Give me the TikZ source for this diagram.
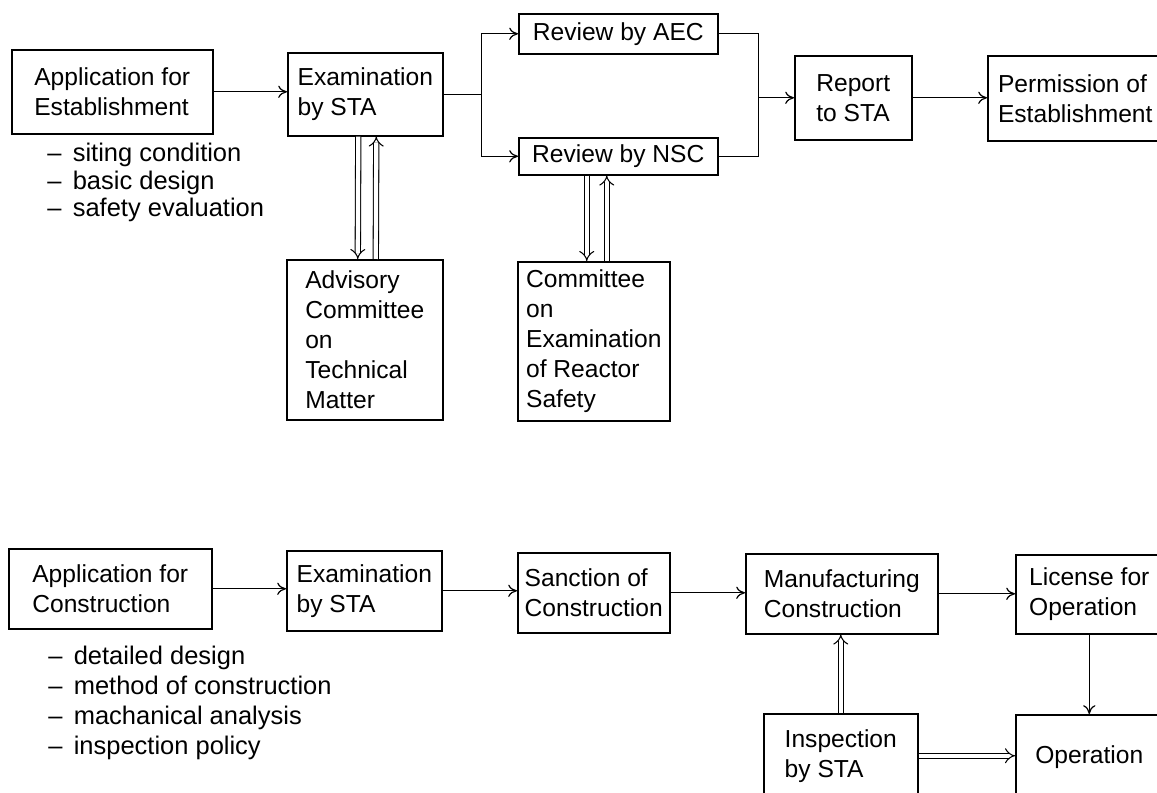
\documentclass[tikz,border=0pt]{standalone}
\usepackage{fontspec}
\setmainfont{Liberation Sans}
\usetikzlibrary{arrows.meta,positioning}

\tikzset{
        box/.style={draw, line width=0.9pt, rectangle, align=left, anchor=north west,
                inner sep=2pt, font=\fontsize{14}{17}\selectfont},
        notes/.style={align=left, anchor=north west, inner sep=0pt},
        arr/.style={line width=0.7pt, -{To[length=5pt, width=7pt]}},
        dbl/.style={double, double distance=2.4pt, line width=0.6pt, -{Implies}}
}

\begin{document}
\begin{tikzpicture}[x=0.02cm, y=-0.02cm]
        \useasboundingbox (0, 0) rectangle (1157, 793);
        \clip (0, 0) rectangle (1157, 793);
        \node[box, minimum width=4.02cm, minimum height=1.68cm] (appE) at (11, 49) {Application for\\Establishment};
        \node[box, minimum width=3.10cm, minimum height=1.66cm] (examE) at (287, 52) {Examination\\by STA};
        \node[box, minimum width=3.98cm, minimum height=0.80cm] (revAEC) at (518, 13) {Review by AEC};
        \node[box, minimum width=3.98cm, minimum height=0.74cm] (revNSC) at (518, 137) {Review by NSC};
        \node[box, minimum width=2.34cm, minimum height=1.68cm] (report) at (794, 55) {Report\\to STA};
        \node[box, minimum width=3.50cm, minimum height=1.70cm] (permit) at (987, 55) {Permission of\\Establishment};
        \node[box, minimum width=3.12cm, minimum height=3.20cm] (advis) at (286, 259) {Advisory\\Committee\\on\\Technical\\Matter};
        \node[box, minimum width=3.04cm, minimum height=3.18cm] (commit) at (517, 261) {Committee\\on\\Examination\\of Reactor\\Safety};
        \node[notes, font=\fontsize{14.5}{15.5}\selectfont] (listE) at (47, 143)
                {-- \,siting condition\\-- \,basic design\\-- \,safety evaluation};

        \node[box, minimum width=4.06cm, minimum height=1.60cm] (appC) at (8, 548) {Application for\\Construction};
        \node[box, minimum width=3.10cm, minimum height=1.60cm] (examC) at (286, 550) {Examination\\by STA};
        \node[box, minimum width=3.04cm, minimum height=1.60cm] (sanct) at (517, 552) {Sanction of\\Construction};
        \node[box, minimum width=3.84cm, minimum height=1.60cm] (manuf) at (745, 553) {Manufacturing\\Construction};
        \node[box, minimum width=2.94cm, minimum height=1.58cm] (licen) at (1015, 554) {License for\\Operation};
        \node[box, minimum width=3.08cm, minimum height=1.68cm] (inspec) at (763, 713) {Inspection\\by STA};
        \node[box, minimum width=2.94cm, minimum height=1.68cm] (operat) at (1015, 714) {Operation};
        \node[notes, font=\fontsize{14.5}{17}\selectfont] (listC) at (48, 646)
                {-- \,detailed design\\-- \,method of construction\\-- \,machanical analysis\\-- \,inspection policy};

        \draw[arr] (appE.east) -- (appE.east -| examE.west);
        \draw[arr] (examE.east) -- ++(38, 0) |- (revAEC.west);
        \draw[arr] (examE.east) -- ++(38, 0) |- (revNSC.west);
        \draw[line width=0.7pt] (revAEC.east) -- ++(40, 0) coordinate (merge) |- (revNSC.east);
        \draw[arr] (merge |- report.west) -- (report.west);
        \draw[arr] (report.east) -- (report.east -| permit.west);
        \draw[dbl] ([xshift=-0.14cm]examE.south) -- ([xshift=-0.14cm]advis.north);
        \draw[dbl] ([xshift=0.22cm]advis.north) -- ([xshift=0.22cm]examE.south);
        \draw[dbl] ([xshift=-0.14cm]commit.north |- revNSC.south) -- ([xshift=-0.14cm]commit.north);
        \draw[dbl] ([xshift=0.26cm]commit.north) -- ([xshift=0.26cm]commit.north |- revNSC.south);

        \draw[arr] (appC.east) -- (appC.east -| examC.west);
        \draw[arr] (examC.east) -- (examC.east -| sanct.west);
        \draw[arr] (sanct.east) -- (sanct.east -| manuf.west);
        \draw[arr] (manuf.east) -- (manuf.east -| licen.west);
        \draw[arr] (licen.south) -- (licen.south |- operat.north);
        \draw[dbl] (inspec.north) -- (inspec.north |- manuf.south);
        \draw[dbl] (inspec.east) -- (inspec.east -| operat.west);
\end{tikzpicture}
\end{document}
